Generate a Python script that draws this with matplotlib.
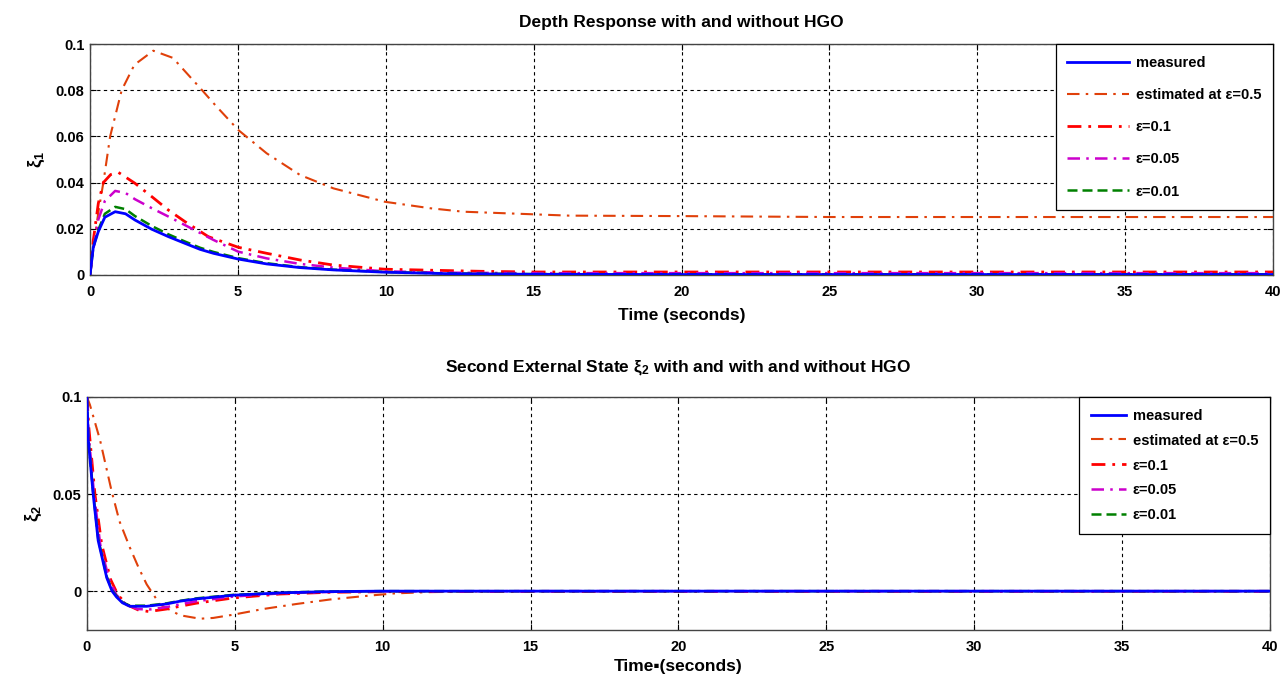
import matplotlib
matplotlib.use("Agg")
import matplotlib.pyplot as plt
from matplotlib.ticker import FixedLocator

# --- depth response xi_1 ---
t1_meas = [0, 0.11, 0.28, 0.5, 0.85, 1.2, 1.52, 2.09, 2.65, 3.21, 3.72, 4.17,
           5.01, 5.97, 7.1, 8.23, 9.97, 12, 15, 20, 40]
x1_meas = [0, 0.012, 0.0188, 0.025, 0.0274, 0.0265, 0.0238, 0.0198, 0.0166,
           0.0137, 0.0111, 0.0094, 0.0069, 0.0048, 0.0032, 0.0022, 0.0012,
           0.0006, 0.0003, 0.0002, 0.0002]
x1_e001 = [0, 0.012, 0.0195, 0.0265, 0.0295, 0.0285, 0.0255, 0.0212, 0.0176,
           0.0145, 0.0118, 0.0100, 0.0073, 0.0051, 0.0034, 0.0023, 0.0013,
           0.0007, 0.0004, 0.0003, 0.0003]
x1_e005 = [0, 0.011, 0.024, 0.032, 0.0364, 0.0355, 0.0328, 0.0289, 0.0253,
           0.0216, 0.0182, 0.0152, 0.0101, 0.0072, 0.0048, 0.0032, 0.0016,
           0.0010, 0.0008, 0.0008, 0.0008]
t1_e01 = [0, 0.11, 0.28, 0.45, 0.7, 0.96, 1.52, 2.09, 2.65, 3.21, 4.0, 5.01,
          5.97, 7.1, 8.23, 9.97, 13.2, 15, 20, 40]
x1_e01 = [0, 0.015, 0.031, 0.040, 0.0435, 0.0444, 0.0397, 0.0339, 0.0281,
          0.0231, 0.0166, 0.012, 0.0094, 0.0065, 0.0043, 0.0025, 0.0016,
          0.0013, 0.0013, 0.0013]
t1_e05 = [0, 0.11, 0.28, 0.45, 0.68, 1.07, 1.5, 2.14, 2.8, 3.72, 4.23, 5.01,
          5.97, 7.1, 8.23, 9.97, 11.5, 12.62, 14.93, 16.2, 19.95, 25, 40]
x1_e05 = [0, 0.012, 0.027, 0.040, 0.060, 0.080, 0.091, 0.0971, 0.094, 0.081,
          0.0736, 0.0628, 0.0527, 0.0433, 0.0375, 0.0317, 0.0289, 0.0274,
          0.0263, 0.0257, 0.0255, 0.0251, 0.0251]

# --- second external state xi_2 ---
t2_meas = [0, 0.045, 0.21, 0.38, 0.67, 0.85, 1.0, 1.2, 1.45, 2.02, 2.69, 3.14,
           3.71, 4.95, 6.53, 8, 9.9, 15, 40]
x2_meas = [0.1, 0.078, 0.050, 0.026, 0.0069, 0.0, -0.003, -0.006, -0.0078,
           -0.0078, -0.0066, -0.0052, -0.0040, -0.0021, -0.0009, -0.0003, 0,
           0, 0]
x2_e001 = [0.1, 0.079, 0.051, 0.027, 0.0075, 0.0005, -0.0025, -0.0057,
           -0.0075, -0.0075, -0.0063, -0.005, -0.0037, -0.0019, -0.0008,
           -0.0002, 0, 0, 0]
t2_eps = [0, 0.05, 0.24, 0.45, 0.75, 1.0, 1.3, 1.7, 2.1, 2.7, 3.14, 3.7,
          4.95, 6.5, 8.2, 10, 15, 40]
x2_e005 = [0.1, 0.082, 0.050, 0.024, 0.006, -0.002, -0.0065, -0.0092,
           -0.0095, -0.0082, -0.0068, -0.0052, -0.0028, -0.0012, -0.0004,
           -0.0001, 0, 0]
t2_e01 = [0, 0.06, 0.27, 0.5, 0.8, 1.05, 1.35, 1.75, 2.1, 2.7, 3.14, 3.7,
          4.95, 6.5, 8.2, 10, 15, 40]
x2_e01 = [0.1, 0.085, 0.050, 0.024, 0.006, -0.002, -0.007, -0.0098, -0.0105,
          -0.0092, -0.0078, -0.0062, -0.0035, -0.0015, -0.0006, -0.0003,
          -0.0002, -0.0001]
t2_e05 = [0, 0.1, 0.44, 0.83, 1.1, 1.45, 1.75, 2.02, 2.47, 3.14, 3.82, 4.27,
          4.95, 5.96, 7.09, 8.22, 9.34, 10.36, 11.5, 13, 15, 40]
x2_e05 = [0.1, 0.096, 0.078, 0.0518, 0.036, 0.0225, 0.012, 0.0035, -0.0069,
          -0.0124, -0.0142, -0.0138, -0.0121, -0.0092, -0.0066, -0.0043,
          -0.0026, -0.0012, -0.0005, -0.0002, 0, 0]

labels = ["measured", "estimated at \u03b5=0.5", "\u03b5=0.1", "\u03b5=0.05",
          "\u03b5=0.01"]
xticks = [0, 5, 10, 15, 20, 25, 30, 35, 40]

plt.rcParams["font.family"] = ["Liberation Sans", "DejaVu Sans"]
plt.rcParams["font.weight"] = "bold"
plt.rcParams["mathtext.fontset"] = "custom"
plt.rcParams["mathtext.rm"] = "Liberation Sans"
plt.rcParams["mathtext.it"] = "Liberation Sans"
plt.rcParams["mathtext.bf"] = "Liberation Sans:bold"

DASHDOT = (0, (5, 2.5, 1, 2.5))
styles = [
    dict(color="#0000ff", lw=2.0, ls="-"),
    dict(color="#e0400a", lw=1.5, ls=(0, (6, 3, 1.2, 3))),
    dict(color="#ff0000", lw=2.0, ls=DASHDOT),
    dict(color="#cc00cc", lw=1.8, ls=DASHDOT),
    dict(color="#008000", lw=1.8, ls=(0, (4, 2))),
]

fig = plt.figure(figsize=(12.88, 6.75), dpi=100)
ax1 = fig.add_axes([0.0699, 0.5926, 0.9185, 0.3422])
ax2 = fig.add_axes([0.0675, 0.0667, 0.9185, 0.3452])


def style_axes(ax, yticks, ylabels):
    ax.set_xlim(0, 40)
    ax.xaxis.set_major_locator(FixedLocator(xticks))
    ax.set_xticklabels([str(v) for v in xticks])
    ax.set_yticks(yticks)
    ax.set_yticklabels(ylabels)
    ax.tick_params(direction="in", labelsize=10.5, length=4, width=0.8,
                   top=True, right=True)
    ax.tick_params(axis="x", pad=7)
    ax.tick_params(axis="y", pad=4)
    ax.grid(True, color="black", ls=(0, (3, 3)), lw=0.8)
    for s in ax.spines.values():
        s.set_color("#444444")
        s.set_linewidth(1.0)


series1 = [(t1_meas, x1_meas), (t1_e05, x1_e05), (t1_e01, x1_e01),
           (t1_meas, x1_e005), (t1_meas, x1_e001)]
order = [1, 2, 3, 4, 0]
for i in order:
    t, x = series1[i]
    ax1.plot(t, x, label=labels[i], zorder=3 + (i == 0), **styles[i])
style_axes(ax1, [0, 0.02, 0.04, 0.06, 0.08, 0.1],
           ["0", "0.02", "0.04", "0.06", "0.08", "0.1"])
ax1.set_ylim(0, 0.1)
ax1.set_title("Depth Response with and without HGO", fontsize=12.5,
              fontweight="bold", pad=12)
ax1.set_xlabel("Time (seconds)", fontsize=12.5, fontweight="bold",
               labelpad=7)
ax1.set_ylabel(r"$\xi_\mathbf{1}$", fontsize=13, labelpad=6)

series2 = [(t2_meas, x2_meas), (t2_e05, x2_e05), (t2_e01, x2_e01),
           (t2_eps, x2_e005), (t2_meas, x2_e001)]
for i in order:
    t, x = series2[i]
    ax2.plot(t, x, label=labels[i], zorder=3 + (i == 0), **styles[i])
style_axes(ax2, [0, 0.05, 0.1], ["0", "0.05", "0.1"])
ax2.set_ylim(-0.02, 0.1)
ax2.set_title(r"Second External State $\xi_\mathbf{2}$ with and with and without HGO",
              fontsize=12.5, fontweight="bold", pad=18)
ax2.set_xlabel("Time\u25aa(seconds)", fontsize=12.5, fontweight="bold",
               labelpad=4)
ax2.set_ylabel(r"$\xi_\mathbf{2}$", fontsize=13, labelpad=6)

for ax, spacing, hl in [(ax1, 1.25, 4.2), (ax2, 0.75, 2.4)]:
    h, l = ax.get_legend_handles_labels()
    idx = [l.index(s) for s in labels]
    leg = ax.legend([h[k] for k in idx], [l[k] for k in idx],
                    loc="upper right", fontsize=10.5, handlelength=hl,
                    labelspacing=spacing, borderaxespad=0, fancybox=False,
                    framealpha=1, borderpad=0.8, handletextpad=0.5)
    leg.get_frame().set_edgecolor("black")
    leg.get_frame().set_linewidth(0.9)
    leg.set_zorder(10)

fig.savefig("out.png", dpi=100)
